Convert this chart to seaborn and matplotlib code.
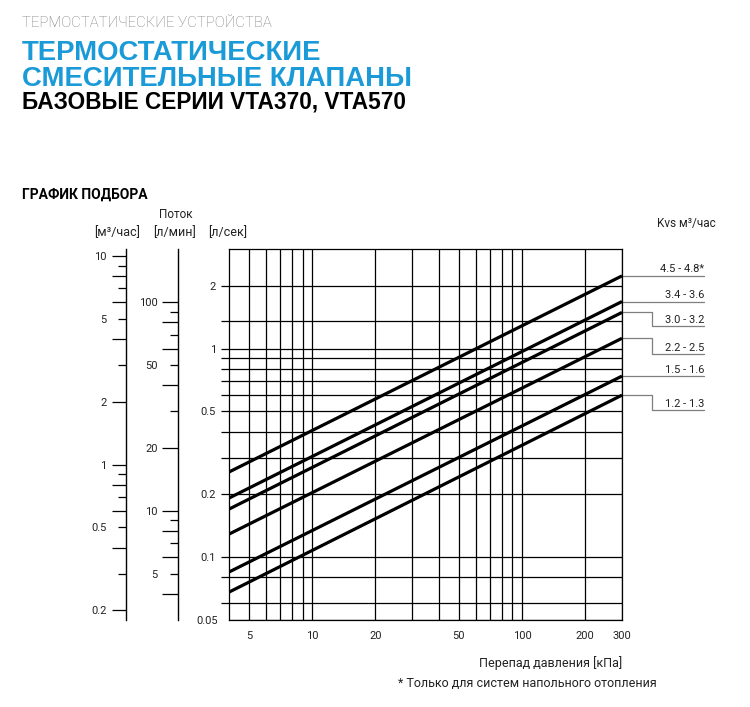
import numpy as np
import pandas as pd
import matplotlib
matplotlib.use("Agg")
import matplotlib.pyplot as plt
import seaborn as sns
from matplotlib.ticker import FixedLocator, FuncFormatter, NullFormatter

# ---------------- data ----------------
kvs_labels = ["4.5 - 4.8*", "3.4 - 3.6", "3.0 - 3.2", "2.2 - 2.5", "1.5 - 1.6", "1.2 - 1.3"]
dp_range = [4, 300]                                  # кПа, ends of each line
flow_at_4kpa = [0.256, 0.192, 0.170, 0.129, 0.0849, 0.0680]   # л/сек
flow_at_300kpa = [2.23, 1.68, 1.49, 1.12, 0.738, 0.598]       # л/сек

x_labeled_ticks = [5, 10, 20, 50, 100, 200, 300]
x_other_grid = [6, 7, 8, 9, 30, 40, 60, 70, 80, 90]
y_labeled_ticks = [2, 1, 0.5, 0.2, 0.1]
y_other_grid = [1.35, 0.9, 0.8, 0.7, 0.6, 0.4, 0.3, 0.08, 0.06]
y_bottom_label = [0.05]

m3h_long_ticks = [10, 8, 6, 4, 2, 1, 0.8, 0.6, 0.4, 0.2]
m3h_short_ticks = [9, 7, 5, 3, 0.9, 0.7, 0.5, 0.3]
m3h_labels = [10, 5, 2, 1, 0.5, 0.2]
lmin_long_ticks = [100, 80, 60, 40, 20, 10, 8, 6, 4]
lmin_short_ticks = [90, 70, 50, 30, 9, 7, 5]
lmin_labels = [100, 50, 20, 10, 5]

label_drop_px = [0, 0, 14, 16, 0, 15]

# ---------------- style ----------------
sns.set_theme(style="white")
plt.rcParams["font.family"] = ["Roboto", "DejaVu Sans"]
plt.rcParams["axes.edgecolor"] = "black"
plt.rcParams["axes.linewidth"] = 0.9

W, H = 750, 707
fig = plt.figure(figsize=(W / 100, H / 100), dpi=100)

def fx(px):
    return px / W

def fy(py):
    return 1 - py / H

ax = fig.add_axes([fx(229), fy(620), (622 - 229) / W, (620 - 249) / H])

rows = []
for lab, q0, q1 in zip(kvs_labels, flow_at_4kpa, flow_at_300kpa):
    rows.append({"Kvs": lab, "dp": dp_range[0], "q": q0})
    rows.append({"Kvs": lab, "dp": dp_range[1], "q": q1})
df = pd.DataFrame(rows)

sns.lineplot(data=df, x="dp", y="q", units="Kvs", estimator=None, color="black",
             linewidth=2.3, ax=ax, legend=False, solid_capstyle="butt")
ax.set_xscale("log")
ax.set_yscale("log")
ax.set_xlim(4, 300)
ax.set_ylim(0.05, 3)

def make_fmt(labels):
    def f(v, pos):
        for l in labels:
            if abs(v - l) < 1e-9 * max(1, l):
                return f"{l:g}"
        return ""
    return FuncFormatter(f)

ax.xaxis.set_major_locator(FixedLocator(x_labeled_ticks))
ax.xaxis.set_minor_locator(FixedLocator(x_other_grid))
ax.xaxis.set_major_formatter(make_fmt(x_labeled_ticks))
ax.xaxis.set_minor_formatter(NullFormatter())
ax.yaxis.set_major_locator(FixedLocator(y_bottom_label))
ax.yaxis.set_minor_locator(FixedLocator(y_labeled_ticks + y_other_grid))
ax.yaxis.set_major_formatter(make_fmt(y_bottom_label))
ax.yaxis.set_minor_formatter(make_fmt(y_labeled_ticks))

pt = 0.72  # px -> pt
ax.tick_params(axis="x", which="both", length=0, pad=11 * pt, labelsize=8, colors="#222222")
ax.tick_params(axis="y", which="major", length=0, pad=11 * pt, labelsize=8, colors="#222222")
ax.tick_params(axis="y", which="minor", length=8 * pt, width=0.9, pad=5 * pt,
               labelsize=8, colors="black", labelcolor="#222222", left=True)
ax.grid(True, which="both", color="black", linewidth=0.9)
for s in ax.spines.values():
    s.set_color("black")
    s.set_linewidth(0.9)
ax.set_ylabel("")
ax.set_xlabel("Перепад давления [кПа]", loc="right", fontsize=9, color="#222222",
              labelpad=11)

# secondary flow axes
sec1 = ax.secondary_yaxis((125.7 - 229) / 393, functions=(lambda q: q * 3.6, lambda m: m / 3.6))
sec2 = ax.secondary_yaxis((178.3 - 229) / 393, functions=(lambda q: q * 60, lambda m: m / 60))
for sec, longs, shorts, labs, Llen, spine_gap in [
        (sec1, m3h_long_ticks, m3h_short_ticks, m3h_labels, 14, 19),
        (sec2, lmin_long_ticks, lmin_short_ticks, lmin_labels, 15.6, 20.6)]:
    sec.yaxis.set_major_locator(FixedLocator(longs))
    sec.yaxis.set_minor_locator(FixedLocator(shorts))
    sec.yaxis.set_major_formatter(make_fmt(labs))
    sec.yaxis.set_minor_formatter(make_fmt(labs))
    sec.tick_params(which="major", length=Llen * pt, width=0.9, pad=(spine_gap - Llen) * pt,
                    labelsize=8, colors="black", labelcolor="#222222")
    sec.tick_params(which="minor", length=8 * pt, width=0.9, pad=(spine_gap - 8) * pt,
                    labelsize=8, colors="black", labelcolor="#222222")
    sec.spines["left"].set_linewidth(1.0)
    sec.spines["left"].set_color("black")

# Kvs labels with connectors
trans = ax.get_yaxis_transform()
px_per_decade = 371 / np.log10(3 / 0.05)
x_step = 1 + (652 - 622) / 393
x_end = 1 + (704 - 622) / 393
for lab, q1, drop in zip(kvs_labels, flow_at_300kpa, label_drop_px):
    if drop:
        q2 = q1 * 10 ** (-drop / px_per_decade)
        xs = [1.0, x_step, x_step, x_end]
        ys = [q1, q1, q2, q2]
    else:
        q2 = q1
        xs = [1.0, x_end]
        ys = [q1, q1]
    ax.plot(xs, ys, transform=trans, color="#7f7f7f", linewidth=0.9, clip_on=False)
    ax.text(x_end, q2 * 10 ** (1.5 / px_per_decade), lab, transform=trans, ha="right",
            va="bottom", fontsize=8, color="#222222")

# ---------------- texts ----------------
fig.text(fx(22), fy(27), "ТЕРМОСТАТИЧЕСКИЕ УСТРОЙСТВА", fontsize=10.7, color="#7a7a7a",
         fontweight="light", va="baseline")
title_font = ["Liberation Sans", "DejaVu Sans"]
fig.text(fx(22), fy(86), "ТЕРМОСТАТИЧЕСКИЕ\nСМЕСИТЕЛЬНЫЕ КЛАПАНЫ", fontsize=19.8,
         color="#1b9ad8", fontweight="bold", family=title_font, va="baseline",
         linespacing=1.0)
fig.text(fx(22), fy(109), "БАЗОВЫЕ СЕРИИ VTA370, VTA570", fontsize=16.3, color="black",
         fontweight="bold", family=title_font, va="baseline")
fig.text(fx(22), fy(199), "ГРАФИК ПОДБОРА", fontsize=10, color="black",
         fontweight="bold", va="baseline")
fig.text(fx(176), fy(218), "Поток", fontsize=8.5, color="#222222", ha="center", va="baseline")
fig.text(fx(117), fy(236), "[м³/час]", fontsize=9, color="#222222", ha="center", va="baseline")
fig.text(fx(175), fy(236), "[л/мин]", fontsize=9, color="#222222", ha="center", va="baseline")
fig.text(fx(228), fy(236), "[л/сек]", fontsize=9, color="#222222", ha="center", va="baseline")
fig.text(fx(716), fy(227), "Kvs м³/час", fontsize=8.5, color="#222222", ha="right", va="baseline")
fig.text(fx(398), fy(687), "* Только для систем напольного отопления", fontsize=9,
         color="#222222", va="baseline")

fig.savefig("out.png", dpi=100)
